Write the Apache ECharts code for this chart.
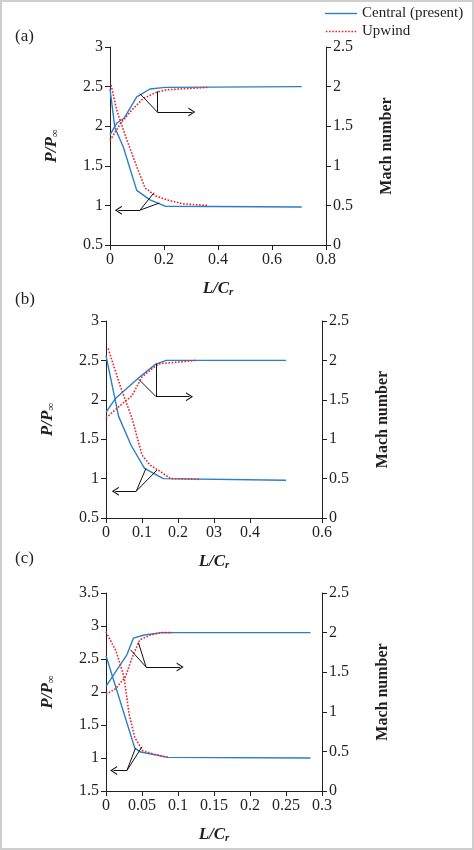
<!DOCTYPE html>
<html>
<head>
<meta charset="utf-8">
<title>P/P∞ and Mach number</title>
<script src="https://cdn.jsdelivr.net/npm/echarts@6/dist/echarts.min.js"></script>
<style>
html, body { margin: 0; padding: 0; background: #fff; }
#chart { width: 474px; height: 850px; }
</style>
</head>
<body>
<div id="chart"></div>
<script>
// ---- data ----
// panel (a)
var aCentralP = [[0, 2.47], [0.018, 1.98], [0.049, 1.74], [0.099, 1.19], [0.148, 1.07], [0.204, 0.99], [0.71, 0.98]];
var aUpwindP = [[0.004, 2.52], [0.025, 2.2], [0.062, 1.83], [0.099, 1.49], [0.13, 1.22], [0.17, 1.12], [0.21, 1.07], [0.27, 1.02], [0.36, 1.0]];
var aCentralM = [[0, 1.39], [0.025, 1.54], [0.052, 1.6], [0.099, 1.87], [0.148, 1.97], [0.204, 1.99], [0.71, 2.0]];
var aUpwindM = [[0, 1.32], [0.04, 1.54], [0.085, 1.72], [0.123, 1.85], [0.173, 1.93], [0.21, 1.96], [0.36, 1.99]];
// panel (b)
var bCentralP = [[0, 2.56], [0.035, 1.79], [0.07, 1.42], [0.107, 1.13], [0.159, 1.0], [0.5, 0.98]];
var bUpwindP = [[0.006, 2.65], [0.04, 2.17], [0.072, 1.77], [0.1, 1.3], [0.123, 1.17], [0.151, 1.09], [0.179, 1.0], [0.262, 0.99]];
var bCentralM = [[0, 1.34], [0.027, 1.52], [0.091, 1.78], [0.137, 1.95], [0.167, 2.0], [0.5, 2.0]];
var bUpwindM = [[0, 1.27], [0.04, 1.43], [0.072, 1.55], [0.1, 1.79], [0.132, 1.91], [0.151, 1.96], [0.206, 1.98], [0.248, 2.0]];
// panel (c)
var cCentralP = [[0, 2.55], [0.04, 1.15], [0.048, 1.09], [0.086, 1.01], [0.284, 1.0]];
var cUpwindP = [[0, 2.91], [0.014, 2.62], [0.025, 2.23], [0.032, 1.67], [0.04, 1.31], [0.051, 1.11], [0.066, 1.06], [0.086, 1.01]];
var cCentralM = [[0, 1.32], [0.029, 1.72], [0.038, 1.93], [0.053, 1.97], [0.077, 2.0], [0.284, 2.0]];
var cUpwindM = [[0, 1.22], [0.013, 1.29], [0.027, 1.44], [0.036, 1.68], [0.047, 1.91], [0.062, 1.97], [0.078, 2.0], [0.092, 2.0]];

// tick labels as printed in the figure
var xTicksB = [0, 0.1, 0.2, 0.3, 0.4, 0.6];
var xLabelsB = ['0', '0.1', '0.2', '03', '0.4', '0.6'];
var yTicksC = [0.5, 1, 1.5, 2, 2.5, 3, 3.5];
var yLabelsC = ['1.5', '1', '1.5', '2', '2.5', '3', '3.5'];

// annotation pointers (left-axis data coords)
var aNoteLines = [[[0.111, 2.41], [0.175, 2.18]], [[0.175, 2.44], [0.175, 2.18]], [[0.111, 0.94], [0.163, 1.16]], [[0.111, 0.94], [0.183, 1.03]]];
var aNoteArrows = [[[0.175, 2.18], [0.303, 2.18]], [[0.111, 0.94], [0.031, 0.94]]];
var bNoteLines = [[[0.091, 2.26], [0.139, 2.04]], [[0.139, 2.46], [0.139, 2.04]], [[0.084, 0.84], [0.111, 1.13]], [[0.084, 0.84], [0.142, 1.11]]];
var bNoteArrows = [[[0.139, 2.04], [0.232, 2.04]], [[0.084, 0.84], [0.026, 0.84]]];
var cNoteLines = [[[0.034, 2.64], [0.0556, 2.38]], [[0.045, 2.75], [0.0556, 2.38]], [[0.029, 0.81], [0.041, 1.15]], [[0.029, 0.81], [0.05, 1.17]]];
var cNoteArrows = [[[0.0556, 2.38], [0.103, 2.38]], [[0.029, 0.81], [0.0106, 0.81]]];

var FONT = 'Liberation Serif';
var INK = '#231f20';
var BLUE = '#2a7fc6';
var RED = '#e8242b';
var CHEVRON = 'path://M0,10 L5,0 L10,10 L8.6,10 L5,2.8 L1.4,10 Z';
// legend keys: a solid bar and a row of dots
var KEY_SOLID = 'path://M0,0 L32,0 L32,1.4 L0,1.4 Z';
var KEY_DOTS = 'path://M0,0h1.6v1.6h-1.6z M3.2,0h1.6v1.6h-1.6z M6.4,0h1.6v1.6h-1.6z M9.6,0h1.6v1.6h-1.6z M12.8,0h1.6v1.6h-1.6z M16,0h1.6v1.6h-1.6z M19.2,0h1.6v1.6h-1.6z M22.4,0h1.6v1.6h-1.6z M25.6,0h1.6v1.6h-1.6z M28.8,0h1.6v1.6h-1.6z';

var myChart = echarts.init(document.getElementById('chart'));

function pickLabel(ticks, labels) {
    return function (v) {
        for (var i = 0; i < ticks.length; i++) {
            if (Math.abs(ticks[i] - v) < 1e-6) return labels[i];
        }
        return '';
    };
}

function notes(lines, arrows) {
    var d = [];
    lines.forEach(function (s) {
        d.push([{ coord: s[0], symbol: 'none' }, { coord: s[1], symbol: 'none' }]);
    });
    arrows.forEach(function (s) {
        d.push([{ coord: s[0], symbol: 'none' }, { coord: s[1], symbol: CHEVRON, symbolSize: [9, 7] }]);
    });
    return {
        silent: true,
        animation: false,
        label: { show: false },
        emphasis: { disabled: true },
        lineStyle: { color: '#111', width: 1, type: 'solid' },
        data: d
    };
}

function line(name, data, xi, yi, dotted, mark) {
    var s = {
        name: name,
        type: 'line',
        xAxisIndex: xi,
        yAxisIndex: yi,
        data: data,
        symbol: 'none',
        silent: true,
        lineStyle: dotted ? { color: RED, width: 1.6, type: 'dotted' } : { color: BLUE, width: 1.4 },
        itemStyle: { color: dotted ? RED : BLUE },
        z: dotted ? 3 : 2
    };
    if (mark) s.markLine = mark;
    return s;
}

function xAxis(gi, max, interval, extra) {
    var ax = {
        gridIndex: gi, type: 'value', min: 0, max: max, interval: interval,
        name: '{i|L/C}{s|r}', nameLocation: 'middle', nameGap: 34,
        nameTextStyle: {
            rich: {
                i: { fontFamily: FONT, fontSize: 17, fontWeight: 'bold', fontStyle: 'italic', color: INK },
                s: { fontFamily: FONT, fontSize: 11, fontWeight: 'bold', fontStyle: 'italic', color: INK, verticalAlign: 'bottom', padding: [8, 0, 0, 0] }
            }
        },
        splitLine: { show: false },
        axisLine: { lineStyle: { color: INK, width: 1 } },
        axisTick: { length: 5, lineStyle: { color: INK } },
        axisLabel: { fontFamily: FONT, fontSize: 16, color: INK, margin: 7 }
    };
    if (extra) {
        ax.axisTick.customValues = extra.ticks;
        ax.axisLabel.customValues = extra.ticks;
        ax.axisLabel.formatter = pickLabel(extra.ticks, extra.labels);
    }
    return ax;
}

function leftAxis(gi, min, max, fmt) {
    var ax = {
        gridIndex: gi, type: 'value', position: 'left', min: min, max: max, interval: 0.5,
        name: '{i|P/P}{s|∞}', nameLocation: 'middle', nameRotate: 90, nameGap: 49,
        nameTextStyle: {
            rich: {
                i: { fontFamily: FONT, fontSize: 17, fontWeight: 'bold', fontStyle: 'italic', color: INK },
                s: { fontFamily: FONT, fontSize: 11, color: INK, verticalAlign: 'bottom', padding: [8, 0, 0, 0] }
            }
        },
        splitLine: { show: false },
        axisLine: { show: true, lineStyle: { color: INK, width: 1 } },
        axisTick: { show: true, length: 5, lineStyle: { color: INK } },
        axisLabel: { fontFamily: FONT, fontSize: 16, color: INK, margin: 7 }
    };
    if (fmt) ax.axisLabel.formatter = fmt;
    return ax;
}

function rightAxis(gi) {
    return {
        gridIndex: gi, type: 'value', position: 'right', min: 0, max: 2.5, interval: 0.5,
        name: 'Mach number', nameLocation: 'middle', nameRotate: 90, nameGap: 53,
        nameTextStyle: { fontFamily: FONT, fontSize: 16, fontWeight: 'bold', color: INK },
        splitLine: { show: false },
        axisLine: { show: true, lineStyle: { color: INK, width: 1 } },
        axisTick: { show: true, length: 5, lineStyle: { color: INK } },
        axisLabel: { fontFamily: FONT, fontSize: 16, color: INK, margin: 7 }
    };
}

function panelTag(txt, top) {
    return { type: 'text', left: 15, top: top, style: { text: txt, font: '17px "Liberation Serif"', fill: INK } };
}

myChart.setOption({
    animation: false,
    textStyle: { fontFamily: FONT },
    legend: {
        orient: 'vertical', left: 320, top: 0, itemWidth: 32, itemHeight: 1.6, itemGap: 1,
        data: [
            { name: 'Central (present)', icon: KEY_SOLID, itemStyle: { color: BLUE } },
            { name: 'Upwind', icon: KEY_DOTS, itemStyle: { color: RED } }
        ],
        textStyle: { fontFamily: FONT, fontSize: 15, color: INK, lineHeight: 17 }
    },
    graphic: [
        { type: 'rect', shape: { x: 1, y: 1, width: 472, height: 848 }, style: { fill: 'none', stroke: '#cfcfcf', lineWidth: 2 }, silent: true },
        panelTag('(a)', 28),
        panelTag('(b)', 291),
        panelTag('(c)', 550)
    ],
    grid: [
        { left: 110, top: 47, width: 216, height: 198 },
        { left: 106, top: 321, width: 216, height: 197 },
        { left: 106, top: 593, width: 216, height: 198 }
    ],
    xAxis: [
        xAxis(0, 0.8, 0.2),
        xAxis(1, 0.6, 0.1, { ticks: xTicksB, labels: xLabelsB }),
        xAxis(2, 0.3, 0.05)
    ],
    yAxis: [
        leftAxis(0, 0.5, 3),
        rightAxis(0),
        leftAxis(1, 0.5, 3),
        rightAxis(1),
        leftAxis(2, 0.5, 3.5, pickLabel(yTicksC, yLabelsC)),
        rightAxis(2)
    ],
    series: [
        line('Central (present)', aCentralP, 0, 0, false, notes(aNoteLines, aNoteArrows)),
        line('Upwind', aUpwindP, 0, 0, true),
        line('Central (present)', aCentralM, 0, 1, false),
        line('Upwind', aUpwindM, 0, 1, true),
        line('Central (present)', bCentralP, 1, 2, false, notes(bNoteLines, bNoteArrows)),
        line('Upwind', bUpwindP, 1, 2, true),
        line('Central (present)', bCentralM, 1, 3, false),
        line('Upwind', bUpwindM, 1, 3, true),
        line('Central (present)', cCentralP, 2, 4, false, notes(cNoteLines, cNoteArrows)),
        line('Upwind', cUpwindP, 2, 4, true),
        line('Central (present)', cCentralM, 2, 5, false),
        line('Upwind', cUpwindM, 2, 5, true)
    ]
});
</script>
</body>
</html>
